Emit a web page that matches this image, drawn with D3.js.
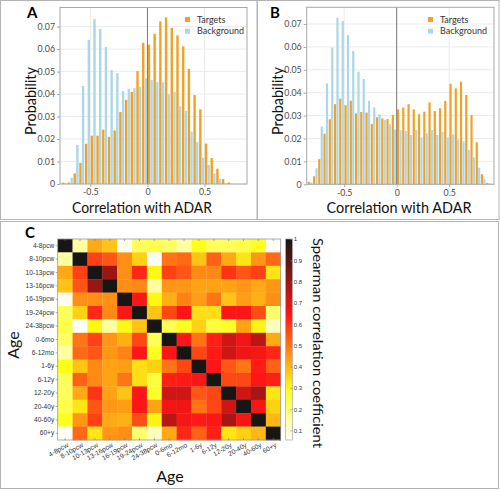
<!DOCTYPE html>
<html><head><meta charset="utf-8">
<script src="https://cdn.jsdelivr.net/npm/d3@7"></script>
<style>body{margin:0;background:#fff}svg{display:block}text{font-family:Lato,"Open Sans",sans-serif}</style>
</head><body><svg id="c" width="500" height="490"></svg>
<script>
// ---------- DATA ----------
const binsA = [-0.725,-0.675,-0.625,-0.575,-0.525,-0.475,-0.425,-0.375,-0.325,-0.275,-0.225,-0.175,-0.125,-0.075,-0.025,
  0.025,0.075,0.125,0.175,0.225,0.275,0.325,0.375,0.425,0.475,0.525,0.575,0.625,0.675,0.725];
const targetsA = [0.0006,0.0007,0.0047,0.0094,0.0179,0.0215,0.0215,0.0242,0.021,0.0238,0.032,0.0374,0.0409,0.0502,0.0628,
  0.062,0.0668,0.0723,0.0741,0.0695,0.0661,0.0612,0.0512,0.0396,0.0332,0.018,0.0115,0.0068,0.0022,0.0007];
const backgroundA = [0.0002,0.0028,0.0174,0.0436,0.0641,0.0734,0.069,0.061,0.0507,0.0493,0.0413,0.0423,0.0426,0.0433,0.047,
  0.0462,0.0453,0.0452,0.040,0.041,0.0345,0.0325,0.0233,0.0186,0.0117,0.0085,0.0046,0.0021,0.0003,0.0001];

const binsB = [-0.825,-0.775,-0.725,-0.675,-0.625,-0.575,-0.525,-0.475,-0.425,-0.375,-0.325,-0.275,-0.225,-0.175,-0.125,-0.075,-0.025,
  0.025,0.075,0.125,0.175,0.225,0.275,0.325,0.375,0.425,0.475,0.525,0.575,0.625,0.675,0.725,0.775,0.825,0.875];
const targetsB = [0.0011,0.0035,0.011,0.0221,0.0284,0.035,0.0374,0.0346,0.0365,0.031,0.0316,0.0313,0.0263,0.0293,0.0288,0.0285,0.0303,
  0.0327,0.0335,0.035,0.0327,0.0306,0.0317,0.0358,0.032,0.0332,0.0364,0.0439,0.0419,0.0448,0.039,0.0303,0.0183,0.0044,0.0006];
const backgroundB = [0.0008,0.007,0.0252,0.0441,0.0597,0.0728,0.0713,0.0652,0.0582,0.0492,0.046,0.0364,0.0336,0.0306,0.0281,0.0262,0.024,
  0.0237,0.0233,0.0215,0.0237,0.0205,0.0223,0.0237,0.0215,0.0228,0.0205,0.0218,0.0196,0.0188,0.015,0.0118,0.0072,0.0022,0.0005];

const probTicks = [0,0.01,0.02,0.03,0.04,0.05,0.06,0.07];
const probTickLabels = ["0","0.01","0.02","0.03","0.04","0.05","0.06","0.07"];
const corrTicks = [-0.5,0,0.5];
const corrTickLabels = ["-0.5","0","0.5"];
const seriesNames = ["Targets","Background"];

const ages = ["4-8pcw","8-10pcw","10-13pcw","13-16pcw","16-19pcw","19-24pcw","24-38pcw","0-6mo","6-12mo","1-6y","6-12y","12-20y","20-40y","40-60y","60+y"];
const corr = [
 [1,0.15,0.42,0.38,0.07,0.22,0.24,0.21,0.15,0.29,0.22,0.22,0.24,0.28,0.06],
 [0.15,1,0.58,0.55,0.46,0.36,0.06,0.50,0.52,0.38,0.53,0.42,0.33,0.45,0.52],
 [0.42,0.58,1,0.80,0.46,0.62,0.30,0.58,0.55,0.47,0.47,0.60,0.55,0.58,0.33],
 [0.38,0.55,0.80,1,0.46,0.47,0.15,0.45,0.45,0.43,0.43,0.43,0.45,0.42,0.45],
 [0.07,0.46,0.46,0.46,1,0.65,0.30,0.41,0.48,0.44,0.50,0.38,0.44,0.41,0.46],
 [0.22,0.36,0.62,0.47,0.65,1,0.38,0.57,0.65,0.34,0.34,0.65,0.65,0.56,0.20],
 [0.24,0.06,0.30,0.15,0.30,0.38,1,0.23,0.28,0.36,0.25,0.27,0.43,0.31,0.12],
 [0.21,0.50,0.58,0.45,0.41,0.57,0.23,1,0.65,0.50,0.63,0.72,0.67,0.75,0.42],
 [0.15,0.52,0.55,0.45,0.48,0.65,0.28,0.65,1,0.57,0.64,0.72,0.67,0.66,0.62],
 [0.29,0.38,0.47,0.43,0.44,0.34,0.36,0.50,0.57,1,0.65,0.55,0.50,0.64,0.53],
 [0.22,0.53,0.47,0.43,0.50,0.34,0.25,0.63,0.64,0.65,1,0.57,0.57,0.65,0.63],
 [0.22,0.42,0.60,0.43,0.38,0.65,0.27,0.72,0.72,0.55,0.57,1,0.72,0.78,0.33],
 [0.24,0.33,0.55,0.45,0.44,0.65,0.43,0.67,0.67,0.50,0.57,0.72,1,0.66,0.36],
 [0.28,0.45,0.58,0.42,0.41,0.56,0.31,0.75,0.66,0.64,0.65,0.78,0.66,1,0.40],
 [0.06,0.52,0.33,0.45,0.46,0.20,0.12,0.42,0.62,0.53,0.63,0.33,0.36,0.40,1]
];
const cbTicks = [0.1,0.2,0.3,0.4,0.5,0.6,0.7,0.8,0.9,1];
const cbTickLabels = ["0.1","0.2","0.3","0.4","0.5","0.6","0.7","0.8","0.9","1"];

// ---------- DRAW ----------
const ORANGE = "#f3a126", BLUE = "#acd7e8";
const svg = d3.select("#c");

function box(x,y,w,h){ svg.append("rect").attr("x",x).attr("y",y).attr("width",w).attr("height",h).attr("fill","none").attr("stroke","#b4b4b4").attr("stroke-width",1); }
box(0.5,0.5,256.5,219);
box(257.5,0.5,241.5,219);
box(0.5,221.5,498,267);

function fitText(sel, len){ sel.each(function(){ const w=this.getComputedTextLength(); if (Math.abs(w-len)>1) { d3.select(this).attr("textLength",len).attr("lengthAdjust","spacingAndGlyphs"); } }); }

function hist(c){
  const g = svg.append("g");
  const x = d3.scaleLinear().domain(c.xd).range([c.x0,c.x1]);
  const y = d3.scaleLinear().domain([0,c.ymax]).range([c.y1,c.y0]);
  g.selectAll("line.hg").data(probTicks).join("line").attr("class","hg")
    .attr("x1",c.x0).attr("x2",c.x1).attr("y1",d=>y(d)).attr("y2",d=>y(d)).attr("stroke","#ebebeb");
  g.selectAll("line.vg").data(corrTicks).join("line").attr("class","vg")
    .attr("y1",c.y0).attr("y2",c.y1).attr("x1",d=>x(d)).attr("x2",d=>x(d)).attr("stroke","#ebebeb");
  const bw = x(0.021)-x(0);
  g.selectAll("rect.t").data(c.bins).join("rect").attr("class","t")
    .attr("x",d=>x(d-0.0225)).attr("width",bw)
    .attr("y",(d,i)=>y(c.t[i])).attr("height",(d,i)=>y(0)-y(c.t[i])).attr("fill",ORANGE);
  g.selectAll("rect.b").data(c.bins).join("rect").attr("class","b")
    .attr("x",d=>x(d+0.0008)).attr("width",bw)
    .attr("y",(d,i)=>y(c.b[i])).attr("height",(d,i)=>y(0)-y(c.b[i])).attr("fill",BLUE);
  g.append("line").attr("x1",x(0)).attr("x2",x(0)).attr("y1",c.y0).attr("y2",c.y1).attr("stroke","#7a7a7a").attr("stroke-width",1);
  g.append("rect").attr("x",c.x0).attr("y",c.y0).attr("width",c.x1-c.x0).attr("height",c.y1-c.y0)
    .attr("fill","none").attr("stroke","#a8a8a8");
  const ya = g.append("g").attr("transform",`translate(${c.x0},0)`)
    .call(d3.axisLeft(y).tickValues(probTicks).tickFormat((d,i)=>probTickLabels[i]).tickSize(3).tickPadding(2));
  const xa = g.append("g").attr("transform",`translate(0,${c.y1})`)
    .call(d3.axisBottom(x).tickValues(corrTicks).tickFormat((d,i)=>corrTickLabels[i]).tickSize(3).tickPadding(2));
  [ya,xa].forEach(a=>{ a.select(".domain").remove(); a.selectAll("line").attr("stroke","#a8a8a8");
    a.selectAll("text").attr("fill","#4d4d4d").style("font-size","8.8px").style("font-family","Lato"); });
  g.append("text").attr("x",c.xtx).attr("y",213).attr("text-anchor","middle").style("font-size","16px").attr("fill","#111")
    .text("Correlation with ADAR").call(fitText,c.xtl);
  g.append("text").attr("transform",`translate(${c.ytx},101) rotate(-90)`).attr("text-anchor","middle").attr("dy","0.35em")
    .style("font-size","16px").attr("fill","#111").text("Probability").call(fitText,68);
  g.append("text").attr("x",c.lx).attr("y",18).style("font-size","15px").style("font-weight","bold").text(c.letter);
  const cols=[ORANGE,BLUE];
  seriesNames.forEach((s,i)=>{
    g.append("rect").attr("x",c.legx).attr("y",17+i*11.7).attr("width",5).attr("height",5).attr("fill",cols[i]);
    g.append("text").attr("x",c.legx+12).attr("y",19.5+i*11.7).attr("dy","0.35em").style("font-size","9px").attr("fill","#333").text(s);
  });
}
hist({bins:binsA,t:targetsA,b:backgroundA,xd:[-0.766,0.872],x0:60,x1:247,y0:7.5,y1:184,ymax:0.0785,
  xtx:142,xtl:140,ytx:30,lx:27,letter:"A",legx:185});
hist({bins:binsB,t:targetsB,b:backgroundB,xd:[-0.857,0.927],x0:306.7,x1:494,y0:7.3,y1:184.3,ymax:0.0773,
  xtx:399,xtl:145,ytx:277,lx:270,letter:"B",legx:428});

// ---------- HEATMAP ----------
const cmin=0.055,cmax=1.0;
function hotRev(v){ const t=Math.max(0,Math.min(1,(v-cmin)/(cmax-cmin))); const s=1-t;
  const cl=z=>Math.max(0,Math.min(1,z));
  const c = d3.rgb(255*cl(s/0.375),255*cl((s-0.375)/0.375),255*cl((s-0.75)/0.25));
  return d3.interpolateRgb(c,"#fbf4ee")(0.09); }
const hx = d3.scaleBand().domain(ages).range([57.7,280.7]);
const hy = d3.scaleBand().domain(ages).range([239,440]);
const hg = svg.append("g");
const cells=[]; corr.forEach((row,i)=>row.forEach((v,j)=>cells.push({i,j,v})));
hg.selectAll("rect.cell").data(cells).join("rect").attr("class","cell")
  .attr("x",d=>hx(ages[d.j])).attr("y",d=>hy(ages[d.i])).attr("width",hx.bandwidth()+0.3).attr("height",hy.bandwidth()+0.3)
  .attr("fill",d=>hotRev(d.v));
hg.append("rect").attr("x",57.7).attr("y",239).attr("width",223).attr("height",201).attr("fill","none").attr("stroke","#9a9a9a").attr("stroke-width",0.8);
const ly = hg.append("g").attr("transform","translate(57.7,0)").call(d3.axisLeft(hy).tickSize(2).tickPadding(1.5));
const lx = hg.append("g").attr("transform","translate(0,440)").call(d3.axisBottom(hx).tickSize(-2).tickPadding(3));
const tx = hg.append("g").attr("transform","translate(0,239)").call(d3.axisTop(hx).tickSize(-2).tickFormat(""));
[ly,lx,tx].forEach(a=>{a.select(".domain").remove(); a.selectAll("line").attr("stroke","#777").attr("stroke-width",0.6);
  a.selectAll("text").attr("fill","#333").style("font-size","6.6px").style("font-family","'Liberation Sans',Arial,sans-serif");});
lx.selectAll("text").attr("text-anchor","end").attr("x",0).attr("y",5).attr("dy","0.35em").attr("transform","rotate(-30)");

const cby = d3.scaleLinear().domain([cmin,cmax]).range([440,239]);
const defs = svg.append("defs");
const grad = defs.append("linearGradient").attr("id","cbg").attr("x1",0).attr("y1",1).attr("x2",0).attr("y2",0);
const stopsV = d3.range(0,41).map(k=>cmin+(cmax-cmin)*k/40);
grad.selectAll("stop").data(stopsV).join("stop").attr("offset",(d,k)=>k/40).attr("stop-color",d=>hotRev(d));
hg.append("rect").attr("x",285.7).attr("y",239).attr("width",6.6).attr("height",201).attr("fill","url(#cbg)").attr("stroke","#9a9a9a").attr("stroke-width",0.6);
const cba = hg.append("g").attr("transform","translate(292.3,0)")
  .call(d3.axisRight(cby).tickValues(cbTicks).tickFormat((d,i)=>cbTickLabels[i]).tickSize(-2).tickPadding(1.5));
cba.select(".domain").remove(); cba.selectAll("line").attr("stroke","#777").attr("stroke-width",0.6);
cba.selectAll("text").attr("fill","#333").style("font-size","6px").style("font-family","'Liberation Sans',Arial,sans-serif");

hg.append("text").attr("x",170).attr("y",482).attr("text-anchor","middle").style("font-size","16px").attr("fill","#111").text("Age");
hg.append("text").attr("transform","translate(13,345) rotate(-90)").attr("text-anchor","middle").attr("dy","0.35em")
  .style("font-size","16px").attr("fill","#111").text("Age");
hg.append("text").attr("transform","translate(318,343) rotate(90)").attr("text-anchor","middle").attr("dy","0.35em")
  .style("font-size","14px").attr("fill","#111").text("Spearman correlation coefficient").call(fitText,210);
hg.append("text").attr("x",25).attr("y",238).style("font-size","15px").style("font-weight","bold").text("C");
</script></body></html>
